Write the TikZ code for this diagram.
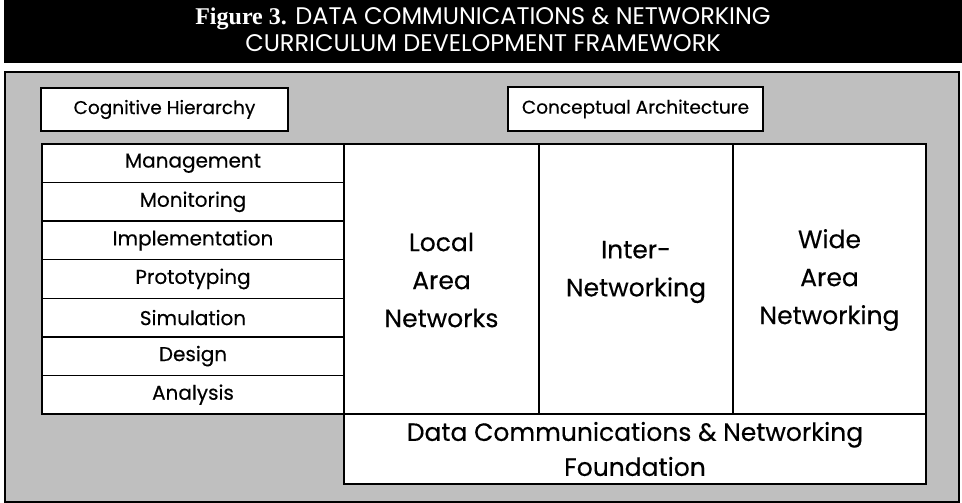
\documentclass[tikz,border=0pt]{standalone}
\usepackage{fontspec}
\setmainfont{Poppins}
\newfontfamily\bodyfont{Poppins}[FakeBold=0.3]
\newfontfamily\figserif{Liberation Serif}
\definecolor{stipple}{gray}{0.75}
\begin{document}
\begin{tikzpicture}[x=1pt,y=-1pt,
  whitebox/.style={draw=black,line width=1.4pt,fill=white},
  cell/.style={draw=black,line width=1.6pt,fill=white},
  headtext/.style={font=\bodyfont\fontsize{18.5}{22}\selectfont},
  smalltext/.style={font=\bodyfont\fontsize{20}{22}\selectfont},
  bigtext/.style={font=\bodyfont\fontsize{25}{38}\selectfont,align=center}]
\useasboundingbox (0,0) rectangle (962,503);
% title bar
\fill[black] (4,0) rectangle (962,63);
\node[text=white,align=center,font=\fontsize{24}{27}\selectfont] (title) at (483,30)
  {{\figserif\bfseries\fontsize{24}{27}\selectfont Figure 3.} DATA COMMUNICATIONS \& NETWORKING\\CURRICULUM DEVELOPMENT FRAMEWORK};
% frame
\draw[line width=2pt,fill=stipple] (5,72) rectangle (959,502);
% headers
\draw[whitebox] (41,88) rectangle (288,131);
\node[headtext] (cog) at (164.5,109.5) {Cognitive Hierarchy};
\draw[whitebox] (508,87) rectangle (763,131);
\node[headtext] (con) at (635.5,109) {Conceptual Architecture};
% left column
\foreach \t [count=\i from 0] in {Management,Monitoring,Implementation,Prototyping,Simulation,Design,Analysis}{
  \pgfmathsetmacro{\ytop}{144+38.57*\i}
  \pgfmathsetmacro{\ybot}{144+38.57*(\i+1)}
  \draw[line width=1.4pt,fill=white] (42,\ytop) rectangle (344,\ybot);
  \node[smalltext] (row\i) at (193,{(\ytop+\ybot)/2}) {\t};
}
% columns
\draw[cell] (344,144) rectangle (539,414);
\node[bigtext] (lan) at (441.5,280) {Local\\Area\\Networks};
\draw[cell] (539,144) rectangle (733,414);
\node[bigtext] (inter) at (636,272) {Inter-\\Networking};
\draw[cell] (733,144) rectangle (926,414);
\node[bigtext] (wan) at (829.5,280) {Wide\\Area\\Networking};
% foundation
\draw[cell] (344,414) rectangle (926,484);
\node[bigtext,font=\bodyfont\fontsize{25}{35}\selectfont] (found) at (635,449) {Data Communications \& Networking\\Foundation};
\end{tikzpicture}
\end{document}
